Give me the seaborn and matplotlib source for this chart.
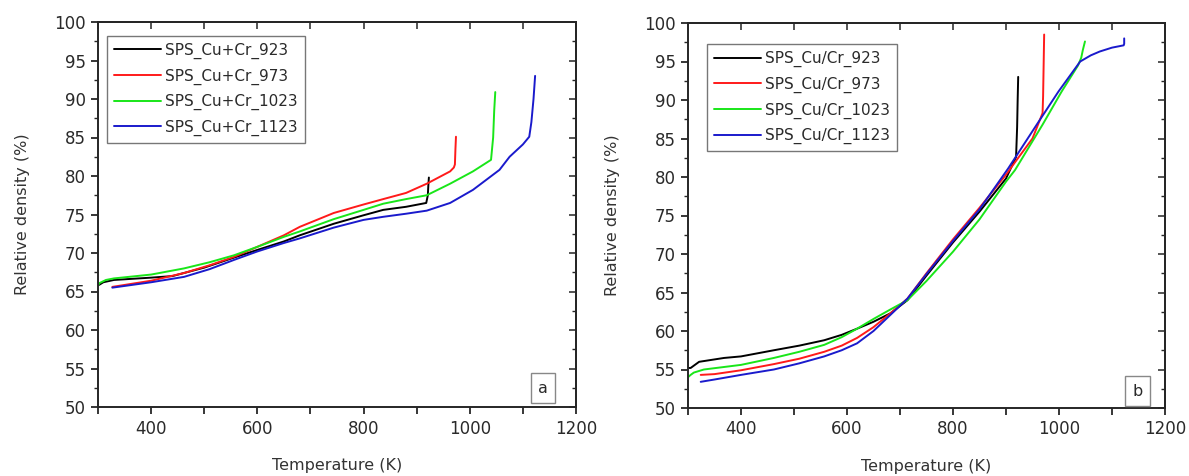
import matplotlib
matplotlib.use("Agg")
import matplotlib.pyplot as plt
import seaborn as sns
import pandas as pd
from matplotlib.ticker import MultipleLocator, FuncFormatter

# ---------------- data ----------------
# Panel a : SPS_Cu+Cr
a_923_T = [300, 303, 310, 330, 400, 440, 500, 556, 600, 650, 680, 744, 800, 837, 880, 918, 921, 922, 923]
a_923_V = [65.8, 65.9, 66.2, 66.5, 66.8, 67.0, 68.1, 69.4, 70.4, 71.5, 72.3, 73.8, 74.9, 75.6, 76.0, 76.5, 77.5, 78.8, 79.8]

a_973_T = [327, 400, 462, 510, 556, 600, 650, 680, 744, 800, 837, 880, 919, 963, 970, 972, 973, 974]
a_973_V = [65.6, 66.4, 67.4, 68.4, 69.5, 70.8, 72.3, 73.4, 75.2, 76.3, 77.0, 77.8, 79.0, 80.6, 81.1, 81.5, 83.5, 85.1]

a_1023_T = [300, 303, 315, 330, 400, 462, 510, 556, 600, 650, 680, 744, 800, 837, 880, 919, 963, 1006, 1040, 1044, 1046, 1048]
a_1023_V = [65.8, 66.1, 66.5, 66.7, 67.2, 68.0, 68.8, 69.7, 70.8, 72.1, 72.8, 74.4, 75.6, 76.4, 77.0, 77.5, 79.0, 80.6, 82.1, 85.0, 88.5, 90.9]

a_1123_T = [327, 400, 462, 510, 556, 600, 650, 680, 744, 800, 837, 880, 919, 963, 1006, 1056, 1075, 1100, 1112, 1116, 1120, 1123]
a_1123_V = [65.5, 66.2, 66.9, 67.9, 69.1, 70.2, 71.3, 71.9, 73.3, 74.3, 74.7, 75.1, 75.5, 76.5, 78.2, 80.8, 82.5, 84.1, 85.1, 87.0, 90.0, 93.0]

# Panel b : SPS_Cu/Cr
b_923_T = [300, 305, 311, 321, 368, 400, 462, 510, 557, 590, 619, 650, 682, 714, 750, 800, 850, 900, 919, 921, 922, 923]
b_923_V = [55.2, 55.2, 55.5, 56.0, 56.5, 56.7, 57.5, 58.1, 58.8, 59.5, 60.3, 61.2, 62.3, 64.0, 67.2, 71.5, 75.5, 79.8, 82.6, 86.5, 90.0, 93.0]

b_973_T = [324, 350, 400, 462, 510, 557, 590, 619, 650, 682, 714, 750, 800, 850, 900, 920, 950, 969, 970, 971, 972]
b_973_V = [54.3, 54.4, 54.9, 55.7, 56.4, 57.3, 58.1, 59.1, 60.5, 62.3, 64.2, 67.5, 71.9, 76.0, 80.3, 82.2, 85.0, 88.3, 90.5, 94.5, 98.5]

b_1023_T = [300, 305, 311, 330, 400, 462, 510, 557, 590, 619, 651, 682, 714, 750, 800, 850, 900, 917, 969, 1005, 1036, 1042, 1045, 1049]
b_1023_V = [54.0, 54.3, 54.6, 55.0, 55.6, 56.5, 57.3, 58.2, 59.2, 60.3, 61.6, 62.8, 64.0, 66.5, 70.3, 74.5, 79.4, 80.9, 86.8, 91.1, 94.5, 95.5, 96.5, 97.6]

b_1123_T = [324, 350, 400, 462, 510, 557, 590, 619, 650, 682, 714, 750, 800, 850, 904, 958, 999, 1040, 1060, 1077, 1100, 1122, 1123, 1123]
b_1123_V = [53.4, 53.7, 54.3, 55.0, 55.8, 56.7, 57.5, 58.4, 60.0, 62.1, 64.2, 67.4, 71.7, 75.8, 81.1, 86.8, 91.1, 95.0, 95.8, 96.3, 96.8, 97.1, 97.3, 98.0]

labels_a = ["SPS_Cu+Cr_923", "SPS_Cu+Cr_973", "SPS_Cu+Cr_1023", "SPS_Cu+Cr_1123"]
labels_b = ["SPS_Cu/Cr_923", "SPS_Cu/Cr_973", "SPS_Cu/Cr_1023", "SPS_Cu/Cr_1123"]
colors = ["#000000", "#ff1a1a", "#19e619", "#1a1acc"]

series_a = [(a_923_T, a_923_V), (a_973_T, a_973_V), (a_1023_T, a_1023_V), (a_1123_T, a_1123_V)]
series_b = [(b_923_T, b_923_V), (b_973_T, b_973_V), (b_1023_T, b_1023_V), (b_1123_T, b_1123_V)]

# ---------------- style ----------------
sns.set_style("ticks")
plt.rcParams["font.family"] = ["DejaVu Sans"]
plt.rcParams["axes.linewidth"] = 1.4

fig = plt.figure(figsize=(11.89, 4.76), dpi=100)
ax_a = fig.add_axes([98 / 1189, 1 - 407 / 476, 478 / 1189, 385 / 476])
ax_b = fig.add_axes([688 / 1189, 1 - 408 / 476, 477 / 1189, 385 / 476])

txt_col = "#2a2a2a"


def xfmt(v, pos):
    v = int(round(v))
    return str(v) if v % 200 == 0 and v >= 400 else ""


def style_axes(ax, series, labels, legend_xy, panel, panel_xy):
    for (T, V), lab, c in zip(series, labels, colors):
        df = pd.DataFrame({"T": T, "V": V})
        sns.lineplot(data=df, x="T", y="V", ax=ax, color=c, label=lab,
                     sort=False, estimator=None, linewidth=1.4)
    ax.set_xlim(300, 1200)
    ax.set_ylim(50, 100)
    ax.xaxis.set_major_locator(MultipleLocator(100))
    ax.xaxis.set_major_formatter(FuncFormatter(xfmt))
    ax.yaxis.set_major_locator(MultipleLocator(5))
    ax.yaxis.set_minor_locator(MultipleLocator(2.5))
    ax.tick_params(axis="both", which="major", direction="out", length=5,
                   width=1.1, labelsize=12, colors="black", labelcolor=txt_col, pad=4)
    ax.tick_params(axis="y", which="minor", direction="out", length=3, width=1.0)
    ax.set_xlabel("Temperature (K)", fontsize=11.5, color="#333333", labelpad=15)
    ax.set_ylabel("Relative density (%)", fontsize=11.5, color="#333333", labelpad=17)

    top = ax.secondary_xaxis("top")
    top.set_xticks(list(range(300, 1201, 100)))
    top.tick_params(direction="in", length=5, width=1.1, labeltop=False)
    right = ax.secondary_yaxis("right")
    right.set_yticks(list(range(50, 101, 5)))
    right.yaxis.set_minor_locator(MultipleLocator(2.5))
    right.tick_params(which="major", direction="in", length=5, width=1.1, labelright=False)
    right.tick_params(which="minor", direction="in", length=3, width=1.0, labelright=False)

    leg = ax.legend(loc="upper left", bbox_to_anchor=legend_xy, borderaxespad=0,
                    fontsize=11, frameon=True, fancybox=False, handlelength=3.1,
                    handletextpad=0.25, labelspacing=0.62, borderpad=0.45)
    leg.get_frame().set_edgecolor("#555555")
    leg.get_frame().set_linewidth(1.0)
    for t in leg.get_texts():
        t.set_color(txt_col)

    ax.text(panel_xy[0], panel_xy[1], panel, transform=ax.transAxes, fontsize=11.5,
            ha="center", va="center", color=txt_col,
            bbox=dict(boxstyle="square,pad=0.45", fc="white", ec="#888888", lw=1.0))


style_axes(ax_a, series_a, labels_a, (0.019, 0.964), "a", (0.931, 0.049))
style_axes(ax_b, series_b, labels_b, (0.040, 0.945), "b", (0.943, 0.044))

fig.savefig("out.png", dpi=100)
